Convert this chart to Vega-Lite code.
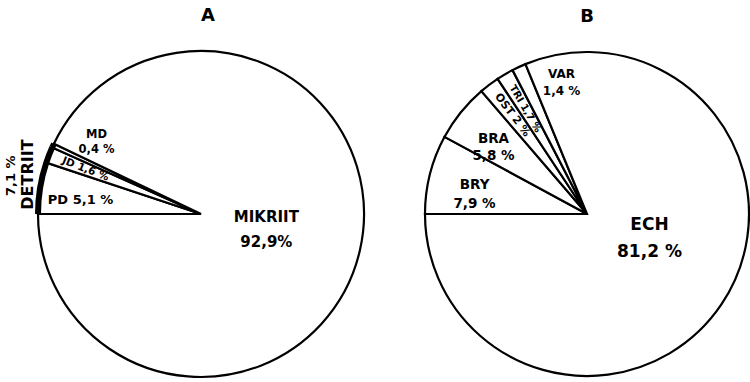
{
  "$schema": "https://vega.github.io/schema/vega-lite/v6.json",
  "background": "white",
  "autosize": {"type": "pad"},
  "padding": {"left": 5, "top": 6, "right": 0, "bottom": 0},
  "spacing": 24,
  "datasets": {
    "A": [
      {"i": 1, "name": "PD", "pct": 5.1, "lab": "PD  5,1 %", "grp": "DETRIIT", "grpPct": "7,1 %"},
      {"i": 2, "name": "JD", "pct": 1.6, "lab": "JD 1,6 %", "grp": "DETRIIT", "grpPct": "7,1 %"},
      {"i": 3, "name": "MD", "pct": 0.4, "lab": "MD\n0,4 %", "grp": "DETRIIT", "grpPct": "7,1 %"},
      {"i": 4, "name": "MIKRIIT", "pct": 92.9, "lab": "MIKRIIT\n92,9%", "grp": "MIKRIIT", "grpPct": "92,9%"}
    ],
    "B": [
      {"i": 1, "name": "BRY", "pct": 7.9, "lab": "BRY\n7,9 %"},
      {"i": 2, "name": "BRA", "pct": 5.8, "lab": "BRA\n5,8 %"},
      {"i": 3, "name": "OST", "pct": 2.0, "lab": "OST 2 %"},
      {"i": 4, "name": "TRI", "pct": 1.7, "lab": "TRI 1,7 %"},
      {"i": 5, "name": "VAR", "pct": 1.4, "lab": "VAR\n1,4 %"},
      {"i": 6, "name": "ECH", "pct": 81.2, "lab": "ECH\n81,2 %"}
    ]
  },
  "hconcat": [
    {
      "width": 390,
      "height": 330,
      "title": {"text": "A", "dx": 7},
      "data": {"name": "A"},
      "encoding": {
        "theta": {"field": "pct", "type": "quantitative", "stack": true, "scale": {"range": [4.71238898, 10.99557429]}},
        "order": {"field": "i", "type": "quantitative"}
      },
      "layer": [
        {"mark": {"type": "arc", "outerRadius": 163, "fill": "white", "stroke": "black", "strokeWidth": 2.2}},
        {"mark": {"type": "arc", "innerRadius": 160, "outerRadius": 166, "fill": "black", "strokeWidth": 0},
         "encoding": {"opacity": {"condition": {"test": "datum.grp === 'DETRIIT'", "value": 1}, "value": 0}}},
        {"mark": {"type": "text", "radius": 122, "dy": 5, "fontSize": 13},
         "encoding": {"text": {"field": "lab"}, "opacity": {"condition": {"test": "datum.name === 'PD'", "value": 1}, "value": 0}}},
        {"mark": {"type": "text", "radius": 124, "angle": 21.24, "fontSize": 10.5},
         "encoding": {"text": {"field": "lab"}, "opacity": {"condition": {"test": "datum.name === 'JD'", "value": 1}, "value": 0}}},
        {"mark": {"type": "text", "radius": 125, "dx": 9, "dy": -26, "fontSize": 11.5, "lineHeight": 15},
         "encoding": {"text": {"field": "lab"}, "opacity": {"condition": {"test": "datum.name === 'MD'", "value": 1}, "value": 0}}},
        {"mark": {"type": "text", "radius": 67, "dy": -12, "fontSize": 15, "lineHeight": 25},
         "encoding": {"text": {"field": "lab"}, "opacity": {"condition": {"test": "datum.name === 'MIKRIIT'", "value": 1}, "value": 0}}},
        {"mark": {"type": "text", "radius": 172, "angle": -90, "dx": 12, "dy": -3, "fontSize": 16},
         "encoding": {"text": {"field": "grp"}, "opacity": {"condition": {"test": "datum.name === 'PD'", "value": 1}, "value": 0}}},
        {"mark": {"type": "text", "radius": 190, "angle": -90, "dx": 8, "dy": -2, "fontSize": 13},
         "encoding": {"text": {"field": "grpPct"}, "opacity": {"condition": {"test": "datum.name === 'PD'", "value": 1}, "value": 0}}}
      ]
    },
    {
      "width": 330,
      "height": 330,
      "title": {"text": "B"},
      "data": {"name": "B"},
      "encoding": {
        "theta": {"field": "pct", "type": "quantitative", "stack": true, "scale": {"range": [4.71238898, 10.99557429]}},
        "order": {"field": "i", "type": "quantitative"}
      },
      "layer": [
        {"mark": {"type": "arc", "outerRadius": 162, "fill": "white", "stroke": "black", "strokeWidth": 2.2}},
        {"mark": {"type": "text", "radius": 116, "dy": -1, "fontSize": 13.5, "lineHeight": 19},
         "encoding": {"text": {"field": "lab"}, "opacity": {"condition": {"test": "datum.name === 'BRY'", "value": 1}, "value": 0}}},
        {"mark": {"type": "text", "radius": 115, "dx": -4, "dy": -3, "fontSize": 13.5, "lineHeight": 17},
         "encoding": {"text": {"field": "lab"}, "opacity": {"condition": {"test": "datum.name === 'BRA'", "value": 1}, "value": 0}}},
        {"mark": {"type": "text", "radius": 124, "angle": 52.92, "fontSize": 11},
         "encoding": {"text": {"field": "lab"}, "opacity": {"condition": {"test": "datum.name === 'OST'", "value": 1}, "value": 0}}},
        {"mark": {"type": "text", "radius": 122, "angle": 59.58, "fontSize": 10},
         "encoding": {"text": {"field": "lab"}, "opacity": {"condition": {"test": "datum.name === 'TRI'", "value": 1}, "value": 0}}},
        {"mark": {"type": "text", "radius": 132, "dx": 30, "dy": -20, "fontSize": 12, "lineHeight": 17},
         "encoding": {"text": {"field": "lab"}, "opacity": {"condition": {"test": "datum.name === 'VAR'", "value": 1}, "value": 0}}},
        {"mark": {"type": "text", "radius": 68, "dx": 6, "dy": -27, "fontSize": 17, "lineHeight": 27},
         "encoding": {"text": {"field": "lab"}, "opacity": {"condition": {"test": "datum.name === 'ECH'", "value": 1}, "value": 0}}}
      ]
    }
  ],
  "config": {
    "view": {"stroke": null},
    "text": {"font": "DejaVu Sans", "fontWeight": "bold", "lineBreak": "\n", "color": "black"},
    "title": {"font": "DejaVu Sans", "fontSize": 18, "fontWeight": "bold", "color": "black", "offset": 22}
  }
}
